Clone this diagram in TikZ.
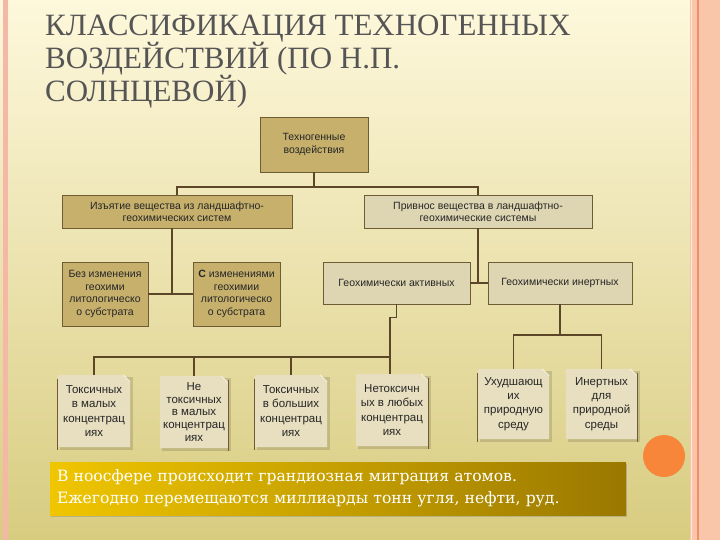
\documentclass[tikz,border=0pt]{standalone}
\usepackage{fontspec}
\setmainfont{Liberation Sans}
\newfontfamily\titlefont{Liberation Serif}
\newfontfamily\notefont{DejaVu Serif}
\usetikzlibrary{backgrounds,shadows}
\pgfdeclarelayer{page}
\pgfsetlayers{page,background,main}
\definecolor{bgtop}{HTML}{FEF8DC}
\definecolor{bgmid}{HTML}{F7ECA6}
\definecolor{bgbot}{HTML}{D8CC80}
\definecolor{pinkc}{HTML}{F6B8A6}
\definecolor{peach}{HTML}{F9C6AA}
\definecolor{peachline}{HTML}{EE9070}
\definecolor{orangec}{HTML}{F7863A}
\definecolor{titlec}{HTML}{555555}
\definecolor{khaki}{HTML}{C6B06C}
\definecolor{lightbox}{HTML}{DED6B2}
\definecolor{docfill}{HTML}{E7DFBF}
\definecolor{linec}{HTML}{5B4728}
\definecolor{boxline}{HTML}{6E5C35}
\definecolor{goldl}{HTML}{F0C600}
\definecolor{goldr}{HTML}{9A7800}
\tikzset{
  conn/.style={draw=linec, line width=1.6pt},
  box/.style={draw=boxline, line width=0.8pt, align=center, inner sep=2pt,
    text=black!85, font=\fontsize{10.5}{12.5}\selectfont},
  darkbox/.style={box, fill=khaki},
  lightb/.style={box, fill=lightbox},
  docnode/.style={minimum width=72pt, minimum height=72pt, align=center, inner sep=1pt,
    text=black!85, font=\fontsize{11.5}{14.2}\selectfont},
}
\begin{document}
\begin{tikzpicture}[x=1pt,y=-1pt]
\useasboundingbox (0,0) rectangle (720,540);
% page background
\begin{pgfonlayer}{page}
\shade[top color=bgtop, middle color=bgmid, bottom color=bgbot] (0,0) rectangle (720,540);
\fill[pinkc] (3,0) rectangle (8,540);
\fill[peach] (690,0) rectangle (720,540);
\draw[white!60!peach, line width=1.5pt] (691.5,0) -- (691.5,540);
\draw[peachline, line width=1.2pt] (698,0) -- (698,540);
\fill[orangec] (664,456) circle (21pt);
\end{pgfonlayer}

% title
\node[anchor=north west, align=left, inner sep=0pt, text=titlec,
  font=\titlefont\fontsize{31}{33}\selectfont] (title) at (45,15)
  {КЛАССИФИКАЦИЯ ТЕХНОГЕННЫХ\\ВОЗДЕЙСТВИЙ (ПО Н.П.\\СОЛНЦЕВОЙ)};

% upper boxes
\node[darkbox, minimum width=108pt, minimum height=55pt] (t0) at (314,144.5) {Техногенные\\воздействия};
\node[darkbox, minimum width=230pt, minimum height=33pt] (a) at (177,211.5) {Изъятие вещества из ландшафтно-\\геохимических систем};
\node[lightb, minimum width=228pt, minimum height=33pt] (b) at (478,211.5) {Привнос вещества в ландшафтно-\\геохимические системы};
\node[darkbox, minimum width=86pt, minimum height=64pt] (a1) at (105,294) {Без изменения\\геохими\\литологическо\\о субстрата};
\node[darkbox, minimum width=87pt, minimum height=64pt] (a2) at (236.5,294) {\textbf{С} изменениями\\геохимии\\литологическо\\о субстрата};
\node[lightb, minimum width=147pt, minimum height=42pt] (b1) at (396.5,283) {Геохимически активных};
\node[lightb, minimum width=144pt, minimum height=42pt] (b2) at (560,283) {Геохимически инертных};

% bottom document boxes
\node[docnode] (c1) at (94,411) {Токсичных\\в малых\\концентрац\\иях};
\node[docnode, minimum width=68pt, font=\fontsize{11.5}{12.8}\selectfont] (c2) at (194,412) {Не\\токсичных\\в малых\\концентрац\\иях};
\node[docnode] (c3) at (291,411) {Токсичных\\в больших\\концентрац\\иях};
\node[docnode] (c4) at (392,410) {Нетоксичн\\ых в любых\\концентрац\\иях};
\node[docnode, minimum width=71pt, minimum height=70pt] (c5) at (513.5,404) {Ухудшающ\\их\\природную\\среду};
\node[docnode, minimum width=71pt, minimum height=70pt] (c6) at (601.5,404) {Инертных\\для\\природной\\среды};

\begin{pgfonlayer}{background}
\foreach \n/\s in {c1/west,c2/east,c3/west,c4/east,c5/west,c6/east} {
  \fill[black, opacity=0.13] ([shift={(2,2)}]\n.north west) rectangle ([shift={(3,3)}]\n.south east);
  \fill[docfill] (\n.north west) -- ([xshift=-7pt]\n.north east) -- ([yshift=-7pt]\n.north east)
     -- (\n.south east) -- (\n.south west) -- cycle;
  \draw[white!70!docfill, line width=0.8pt] ([xshift=-7pt]\n.north east) -- ([yshift=-7pt]\n.north east);
  \draw[boxline, line width=0.9pt] ([yshift=-4pt]\n.north \s) -- ([yshift=-3pt]\n.south \s);
}
\end{pgfonlayer}

% connectors
\coordinate (j0) at (314,187);
\draw[conn] (t0.south) -- (j0);
\draw[conn] (a.north) |- (j0) -| (b.north);
\coordinate (j1) at (172,294);
\draw[conn] (a.south -| j1) -- (j1);
\draw[conn] (a1.east) -- (a2.west);
\draw[conn] (b.south) -- (b.south |- b1.east);
\draw[conn] (b1.east) -- (b2.west);
\coordinate (h1) at (390,357);
\draw[conn] (b1.south) -- ++(0,13) -| (h1);
\draw[conn] (c1.north) |- (h1);
\draw[conn] (c2.north) -- (c2.north |- h1);
\draw[conn] (c3.north) -- (c3.north |- h1);
\draw[conn] (c4.north -| h1) -- (h1);
\coordinate (h2) at (560,335);
\draw[conn] (b2.south) -- (h2);
\draw[conn] (c5.north) |- (h2) -| (c6.north);

% note box
\node[minimum width=576pt, minimum height=53pt, text width=562pt, inner xsep=7pt,
  align=left, left color=goldl, right color=goldr, text=white,
  drop shadow={shadow xshift=1pt, shadow yshift=-2pt, opacity=0.35},
  font=\notefont\fontsize{15.6}{22}\selectfont] (note) at (338,488.5)
  {В ноосфере происходит грандиозная миграция атомов.\\Ежегодно перемещаются миллиарды тонн угля, нефти, руд.};
\end{tikzpicture}
\end{document}
